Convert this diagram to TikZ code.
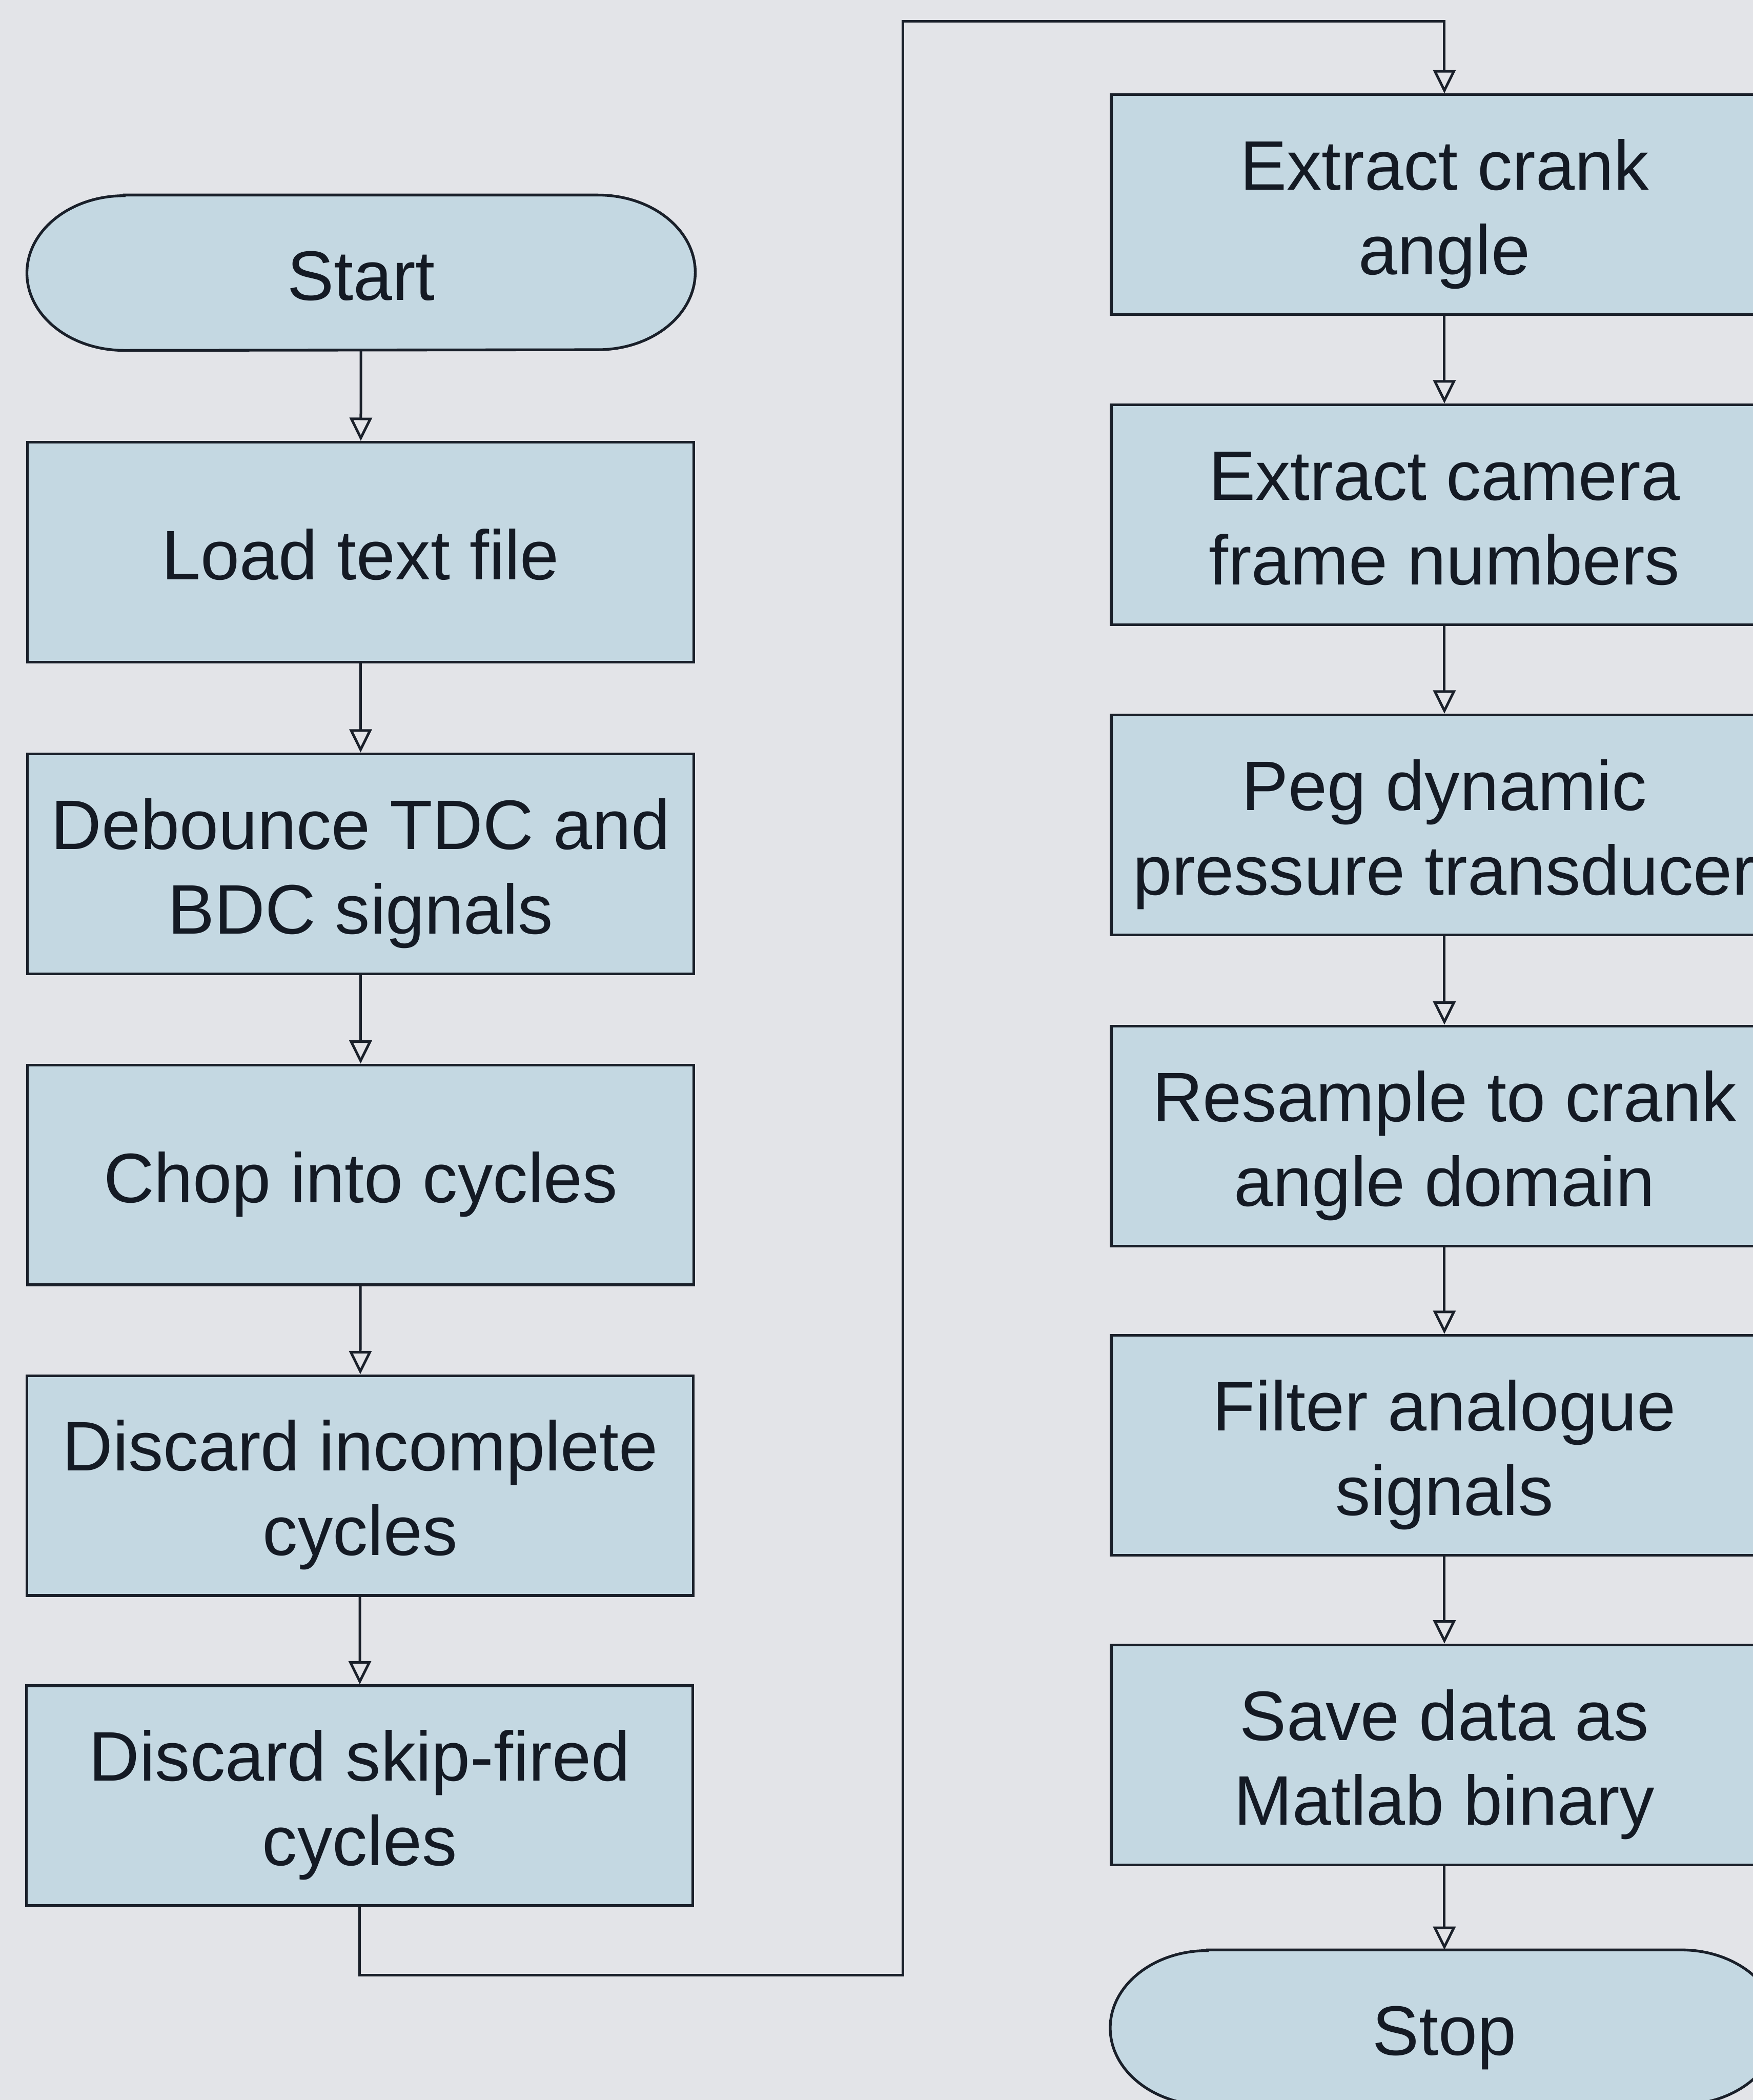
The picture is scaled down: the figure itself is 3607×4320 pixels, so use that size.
\documentclass[tikz,border=0pt]{standalone}
\usepackage{fontspec}
\setmainfont{Liberation Sans}
\usetikzlibrary{arrows.meta,backgrounds}
\definecolor{bgc}{RGB}{227,228,232}
\definecolor{boxc}{RGB}{196,216,226}
\definecolor{linec}{RGB}{26,32,42}
\definecolor{textc}{RGB}{20,26,36}
\newcommand\fh{\rule{0pt}{41pt}}
\newcommand\fd{\rule[-8.8pt]{0pt}{8.8pt}}
\begin{document}
\begin{tikzpicture}[x=0.01cm,y=-0.01cm,
  txt/.style={align=center, text=textc, font=\fontsize{41}{49.5}\selectfont},
  proc/.style={txt, draw=linec, line width=1.6pt, fill=boxc, minimum width=13.7cm, minimum height=4.52cm, inner sep=0pt},
  term/.style={txt, minimum width=13.73cm, minimum height=3.18cm, inner sep=0pt},
  termshape/.style={draw=linec, line width=1.6pt, fill=boxc},
  arr/.style={draw=linec, line width=1.5pt, -{Triangle[open,length=4.8mm,width=4.6mm]}}]
\useasboundingbox (0,0) rectangle (3607,4320);
\clip (0,0) rectangle (3607,4320);
% left column
\node[term] (start) at (743,561) {\fh Start\fd};
\node[proc] (load) at (742,1136) {\fh Load text file\fd};
\node[proc] (deb) at (742,1777) {\fh Debounce TDC and\\BDC signals\fd};
\node[proc] (chop) at (742,2417) {\fh Chop into cycles\fd};
\node[proc] (dinc) at (741,3056) {\fh Discard incomplete\\cycles\fd};
\node[proc] (dskip) at (740,3694) {\fh Discard skip-fired\\cycles\fd};
% right column
\node[proc] (crank) at (2972,421) {\fh Extract crank\\angle\fd};
\node[proc] (cam) at (2972,1059) {\fh Extract camera\\frame numbers\fd};
\node[proc] (peg) at (2972,1697) {\fh Peg dynamic\\pressure transducer\fd};
\node[proc] (res) at (2972,2337) {\fh Resample to crank\\angle domain\fd};
\node[proc] (filt) at (2972,2973) {\fh Filter analogue\\signals\fd};
\node[proc] (save) at (2972,3610) {\fh Save data as\\Matlab binary\fd};
\node[term] (stop) at (2972,4171) {\fh Stop\fd};
\begin{pgfonlayer}{background}
\fill[bgc] (0,0) rectangle (3607,4320);
\foreach \n in {start,stop}{
  \draw[termshape] ([xshift=2cm]\n.north west) -- ([xshift=-2cm]\n.north east)
    arc[start angle=90,end angle=-90,x radius=2cm,y radius=1.59cm]
    -- ([xshift=2cm]\n.south west)
    arc[start angle=270,end angle=90,x radius=2cm,y radius=1.59cm] -- cycle;
}
\end{pgfonlayer}
% connectors
\draw[arr] (start) -- (load);
\draw[arr] (load) -- (deb);
\draw[arr] (deb) -- (chop);
\draw[arr] (chop) -- (dinc);
\draw[arr] (dinc) -- (dskip);
\coordinate (low) at (1858,4063);
\coordinate (high) at (1858,44);
\draw[arr] (dskip.south) |- (low) -- (high) -| (crank.north);
\draw[arr] (crank) -- (cam);
\draw[arr] (cam) -- (peg);
\draw[arr] (peg) -- (res);
\draw[arr] (res) -- (filt);
\draw[arr] (filt) -- (save);
\draw[arr] (save) -- (stop);
\end{tikzpicture}
\end{document}
